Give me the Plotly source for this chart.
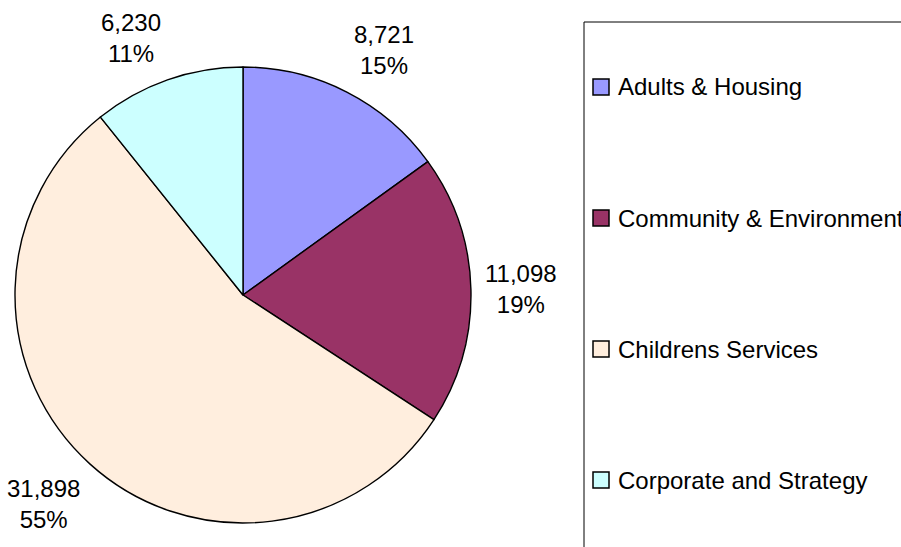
import math
import plotly.graph_objects as go

# Spending by directorate
categories = [
    "Adults & Housing",
    "Community & Environment",
    "Childrens Services",
    "Corporate and Strategy",
]
spend = [8721, 11098, 31898, 6230]
slice_colors = ["#9999FF", "#993366", "#FFEEDE", "#CCFFFF"]

W, H = 901, 547
FONT = "Liberation Sans, Arial, sans-serif"

# Pie geometry in pixels (centre and radius)
CX, CY, R = 243, 295, 228
LABEL_GAP = 12  # distance of the data-label corner from the rim

fig = go.Figure(
    go.Pie(
        labels=categories,
        values=spend,
        sort=False,
        direction="clockwise",
        rotation=0,
        marker=dict(colors=slice_colors, line=dict(color="black", width=1.4)),
        textinfo="none",
        domain=dict(
            x=[(CX - R) / W, (CX + R) / W],
            y=[(H - CY - R) / H, (H - CY + R) / H],
        ),
        showlegend=False,
        hoverinfo="label+value+percent",
    )
)

annotations = []

# Data labels (value and share) set just outside each slice, anchored by
# the corner of the label that faces the pie
total = sum(spend)
cum = 0
for v in spend:
    mid = (cum + v / 2) / total * 2 * math.pi
    cum += v
    s, c = math.sin(mid), math.cos(mid)
    px = CX + (R + LABEL_GAP) * s
    py = CY - (R + LABEL_GAP) * c
    xanchor = "left" if s >= 0 else "right"
    if abs(c) < 0.3:
        yanchor = "middle"
    elif c > 0:
        yanchor = "bottom"
    else:
        yanchor = "top"
    annotations.append(
        dict(
            xref="paper", yref="paper", x=px / W, y=1 - py / H,
            xanchor=xanchor, yanchor=yanchor, showarrow=False, align="center",
            text=f"{v:,}<br>{v / total:.0%}",
            font=dict(size=24, color="black", family=FONT),
        )
    )

# Boxed key on the right, one entry per category
shapes = [
    dict(
        type="rect", xref="paper", yref="paper",
        x0=584 / W, x1=1.2, y0=-0.2, y1=1 - 22 / H,
        line=dict(color="black", width=1), fillcolor="rgba(0,0,0,0)",
    )
]
KEY_TOP, KEY_STEP, SW = 87, 131, 8
for i, (name, col) in enumerate(zip(categories, slice_colors)):
    yc = KEY_TOP + KEY_STEP * i
    shapes.append(
        dict(
            type="rect", xref="paper", yref="paper",
            x0=593 / W, x1=(593 + 2 * SW) / W,
            y0=1 - (yc + SW) / H, y1=1 - (yc - SW) / H,
            line=dict(color="black", width=1.5), fillcolor=col,
        )
    )
    annotations.append(
        dict(
            xref="paper", yref="paper", x=616 / W, y=1 - yc / H,
            xanchor="left", yanchor="middle", showarrow=False,
            text=name, font=dict(size=24, color="black", family=FONT),
        )
    )

fig.update_layout(
    width=W,
    height=H,
    margin=dict(l=0, r=0, t=0, b=0, autoexpand=False),
    paper_bgcolor="white",
    plot_bgcolor="white",
    shapes=shapes,
    annotations=annotations,
    font=dict(family=FONT, color="black"),
)

fig.write_html("out.html")
